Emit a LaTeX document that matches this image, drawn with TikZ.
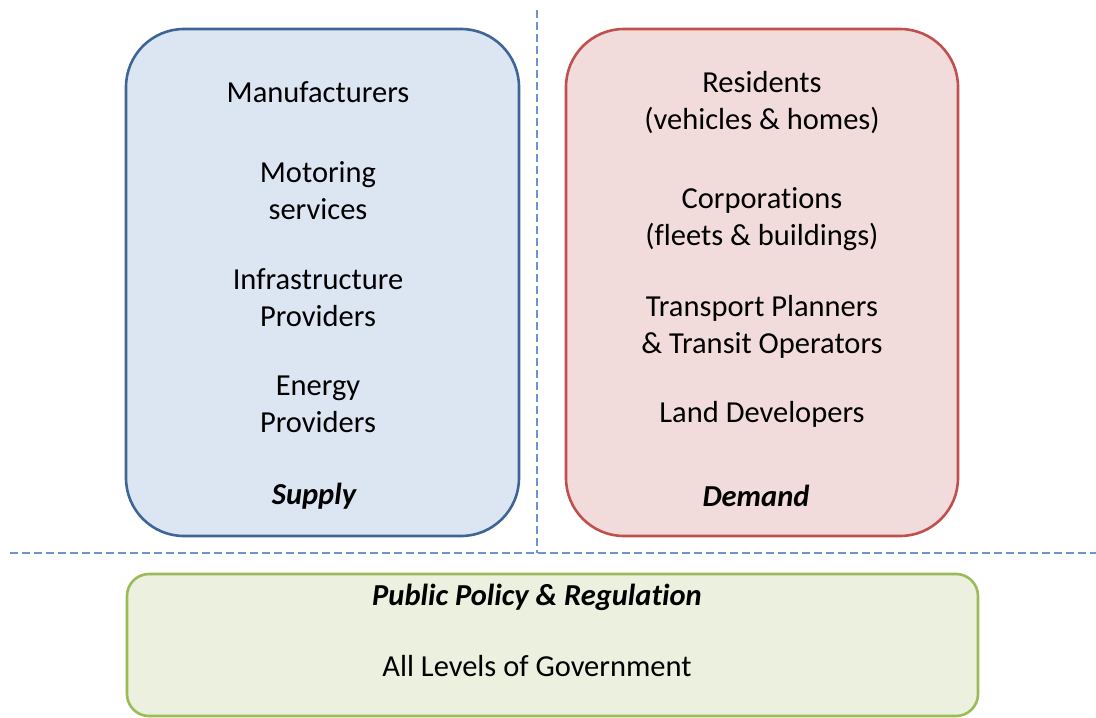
\documentclass[tikz,border=0pt]{standalone}
\usepackage{fontspec}
\setmainfont{Carlito}[Ligatures={NoCommon}]
\begin{document}
\begin{tikzpicture}[x=1pt,y=-1pt,
  txt/.style={font=\fontsize{30.5}{37}\selectfont, align=center, inner sep=0pt, text=black},
  boxstyle/.style={rounded corners=58pt, line width=2.6pt},
  sep/.style={draw=sepblue, line width=1.3pt, dash pattern=on 8pt off 4pt}]
\definecolor{sepblue}{HTML}{6F95CC}
\definecolor{bluefill}{HTML}{DCE6F2}
\definecolor{bluedraw}{HTML}{3F6496}
\definecolor{redfill}{HTML}{F2DCDB}
\definecolor{reddraw}{HTML}{C0504D}
\definecolor{greenfill}{HTML}{EBF1DE}
\definecolor{greendraw}{HTML}{9BBB59}
\useasboundingbox (0,0) rectangle (1096,718);
% separators
\coordinate (vtop) at (537,10);
\coordinate (vbot) at (537,553);
\coordinate (hl) at (10,553);
\coordinate (hr) at (1096,553);
\draw[sep] (vtop) -- (vbot);
\draw[sep] (hl) -- (hr);
% boxes
\draw[boxstyle, fill=bluefill, draw=bluedraw] (126,29) rectangle (519,536);
\draw[boxstyle, fill=redfill, draw=reddraw] (566,29) rectangle (958,536);
\draw[rounded corners=22pt, line width=2.6pt, fill=greenfill, draw=greendraw] (127,574) rectangle (978,716);
% supply text
\node[txt] (manu) at (318,92) {Manufacturers};
\node[txt] (moto) at (318,190.5) {Motoring\\services};
\node[txt] (infra) at (318,297.5) {Infrastructure\\Providers};
\node[txt] (energy) at (318,404.5) {Energy\\Providers};
\node[txt, font=\fontsize{30.5}{37}\selectfont\bfseries\itshape] (supply) at (314,496) {Supply};
% demand text
\node[txt] (resid) at (762,102.5) {Residents\\(vehicles \& homes)};
\node[txt] (corp) at (762,219.5) {Corporations\\(fleets \& buildings)};
\node[txt] (trans) at (762,326.5) {Transport Planners\\\& Transit Operators};
\node[txt] (land) at (762,414) {Land Developers};
\node[txt, font=\fontsize{30.5}{37}\selectfont\bfseries\itshape] (demand) at (756,496) {Demand};
% policy text
\node[txt, font=\fontsize{30.5}{37}\selectfont\bfseries\itshape] (policy) at (537,597) {Public Policy \& Regulation};
\node[txt] (gov) at (537,666) {All Levels of Government};
\end{tikzpicture}
\end{document}
